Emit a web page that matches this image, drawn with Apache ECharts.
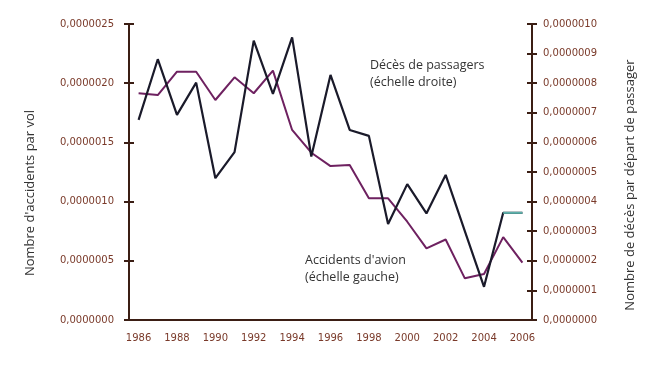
<!DOCTYPE html>
<html>
<head>
<meta charset="utf-8">
<script src="https://cdn.jsdelivr.net/npm/echarts@6/dist/echarts.min.js"></script>
<style>html,body{margin:0;padding:0;background:#fff;}#c{width:668px;height:368px;}</style>
</head>
<body>
<div id="c"></div>
<script>
var years = ['1986','1987','1988','1989','1990','1991','1992','1993','1994','1995','1996','1997','1998','1999','2000','2001','2002','2003','2004','2005','2006'];
// Passenger deaths per passenger departure (right scale)
var deaths = [6.76e-7, 8.81e-7, 6.93e-7, 8.02e-7, 4.79e-7, 5.67e-7, 9.44e-7, 7.64e-7, 9.55e-7, 5.52e-7, 8.28e-7, 6.42e-7, 6.22e-7, 3.24e-7, 4.59e-7, 3.60e-7, 4.90e-7, 3.00e-7, 1.12e-7, 3.62e-7, 3.62e-7];
// Accidents per flight (left scale)
var accidents = [1.915e-6, 1.90e-6, 2.097e-6, 2.097e-6, 1.858e-6, 2.05e-6, 1.915e-6, 2.106e-6, 1.605e-6, 1.413e-6, 1.30e-6, 1.309e-6, 1.028e-6, 1.028e-6, 0.83e-6, 0.605e-6, 0.68e-6, 0.352e-6, 0.389e-6, 0.70e-6, 0.484e-6];
var leftAxis = {min: 0, max: 2.5e-6, step: 5e-7};
var rightAxis = {min: 0, max: 1e-6, step: 1e-7};

var teal = deaths.map(function (v, i) { return i >= deaths.length - 2 ? v : null; });
function fmt(v) { return v.toFixed(7).replace('.', ','); }

var axisCol = '#3b1e14';
var labCol = '#7a3a2a';
var chart = echarts.init(document.getElementById('c'), null, {renderer: 'canvas'});
function yAx(pos, a, labels, inside) {
  return {
    type: 'value', position: pos, min: a.min, max: a.max, interval: a.step,
    axisLine: {show: !inside, lineStyle: {color: axisCol, width: 2}},
    axisTick: {show: true, inside: inside, length: 5, lineStyle: {color: axisCol, width: 2}},
    axisLabel: {show: labels, formatter: fmt, color: labCol, fontFamily: 'DejaVu Sans', fontSize: 10, fontWeight: 'normal', margin: pos === 'left' ? 15 : 11},
    splitLine: {show: false}
  };
}
chart.setOption({
  animation: false,
  backgroundColor: '#fff',
  grid: {left: 129, right: 136, top: 24, bottom: 48},
  xAxis: {
    type: 'category', data: years, boundaryGap: true,
    axisLine: {lineStyle: {color: axisCol, width: 2}},
    axisTick: {inside: true, length: 5, interval: 1, lineStyle: {color: axisCol, width: 1.5}},
    axisLabel: {interval: 1, color: labCol, fontFamily: 'DejaVu Sans', fontSize: 10, fontWeight: 'normal', margin: 13}
  },
  yAxis: [
    yAx('left', leftAxis, true, false),
    yAx('right', rightAxis, true, false),
    yAx('left', leftAxis, false, true),
    yAx('right', rightAxis, false, true)
  ],
  series: [
    {type: 'line', yAxisIndex: 0, data: accidents, symbol: 'none', lineStyle: {color: '#6e2160', width: 2}, z: 2},
    {type: 'line', yAxisIndex: 1, data: deaths, symbol: 'none', lineStyle: {color: '#1a1a2a', width: 2.2}, z: 3},
    {type: 'line', yAxisIndex: 1, data: teal, symbol: 'none', lineStyle: {color: '#5db0aa', width: 2}, z: 4}
  ],
  graphic: [
    {type: 'text', left: 370, top: 57, style: {text: 'Décès de passagers\n(échelle droite)', fill: '#333', font: '12.5px "Open Sans"', lineHeight: 17}},
    {type: 'text', left: 305, top: 252, style: {text: "Accidents d'avion\n(échelle gauche)", fill: '#333', font: '12.5px "Open Sans"', lineHeight: 17}},
    {type: 'text', x: 30, y: 193, rotation: Math.PI / 2, style: {text: "Nombre d'accidents par vol", fill: '#333', font: '13px "Open Sans"', align: 'center', verticalAlign: 'middle'}},
    {type: 'text', x: 630, y: 185, rotation: Math.PI / 2, style: {text: 'Nombre de décès par départ de passager', fill: '#333', font: '13px "Open Sans"', align: 'center', verticalAlign: 'middle'}}
  ]
});
</script>
</body>
</html>
